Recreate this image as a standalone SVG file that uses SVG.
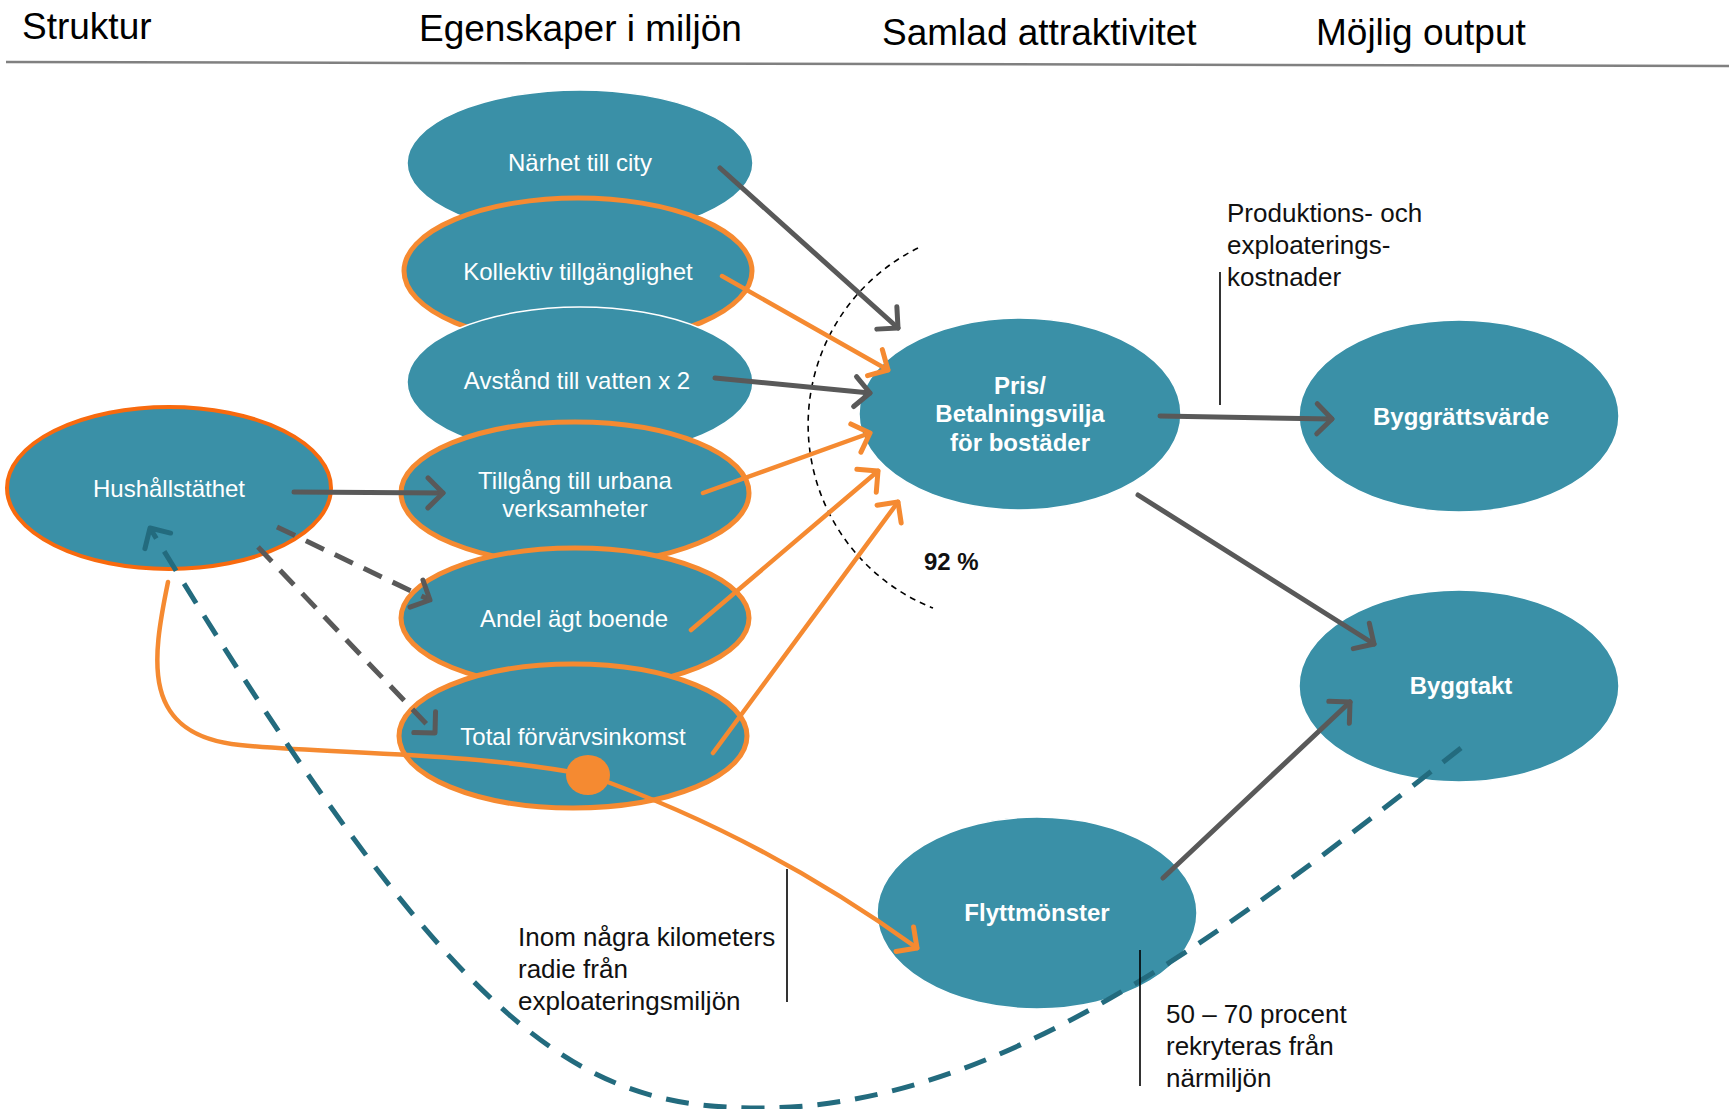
<svg xmlns="http://www.w3.org/2000/svg" width="1729" height="1109" viewBox="0 0 1729 1109">
<style>
.bg{fill:#ffffff}
.title{font-family:"Liberation Sans",Arial,sans-serif;font-size:37px;fill:#000}
.node{fill:#3A90A7;stroke:#ffffff;stroke-width:1.5}
.node-o{fill:#3A90A7;stroke:#F58A31;stroke-width:5}
.node-h{fill:#3A90A7;stroke:#F86A0E;stroke-width:4}
.lbl{font-family:"Liberation Sans",Arial,sans-serif;font-size:24px;fill:#ffffff;text-anchor:middle}
.lblb{font-family:"Liberation Sans",Arial,sans-serif;font-size:24px;font-weight:bold;fill:#ffffff;text-anchor:middle}
.note{font-family:"Liberation Sans",Arial,sans-serif;font-size:26px;fill:#111}
.pct{font-family:"Liberation Sans",Arial,sans-serif;font-size:24px;font-weight:bold;fill:#111}
.g{stroke:#595959;stroke-width:5;fill:none;stroke-linecap:round}
.gd{stroke:#595959;stroke-width:5;fill:none;stroke-dasharray:20 12}
.o{stroke:#F58A31;stroke-width:4.5;fill:none;stroke-linecap:round}
.t{stroke:#236B7E;stroke-width:5;fill:none;stroke-dasharray:23 15}
.thin{stroke:#000;stroke-width:1.6;fill:none}
</style>
<defs>
<marker id="ag" markerUnits="userSpaceOnUse" markerWidth="40" markerHeight="40" refX="0" refY="0" orient="auto" overflow="visible">
<path d="M -15 -15 L 0 0 L -15 15" fill="none" stroke="#595959" stroke-width="5" stroke-linecap="round" stroke-linejoin="round"/>
</marker>
<marker id="ao" markerUnits="userSpaceOnUse" markerWidth="40" markerHeight="40" refX="0" refY="0" orient="auto" overflow="visible">
<path d="M -15 -15 L 0 0 L -15 15" fill="none" stroke="#F58A31" stroke-width="5" stroke-linecap="round" stroke-linejoin="round"/>
</marker>
<marker id="at" markerUnits="userSpaceOnUse" markerWidth="40" markerHeight="40" refX="0" refY="0" orient="auto" overflow="visible">
<path d="M -15 -15 L 0 0 L -15 15" fill="none" stroke="#236B7E" stroke-width="5" stroke-linecap="round" stroke-linejoin="round"/>
</marker>
</defs>
<rect class="bg" x="0" y="0" width="1729" height="1109"/>

<g id="header">
<text class="title" x="22" y="39">Struktur</text>
<text class="title" x="419" y="41">Egenskaper i miljön</text>
<text class="title" x="882" y="45">Samlad attraktivitet</text>
<text class="title" x="1316" y="45">Möjlig output</text>
<line x1="6" y1="62" x2="1729" y2="66" stroke="#808080" stroke-width="2.5"/>
</g>

<g id="n-narhet"><ellipse class="node" cx="580" cy="163" rx="173" ry="73"/><text class="lbl" x="580" y="171">Närhet till city</text></g>
<g id="n-kollektiv"><ellipse class="node-o" cx="578" cy="271" rx="174" ry="73"/><text class="lbl" x="578" y="280">Kollektiv tillgänglighet</text></g>
<g id="n-avstand"><ellipse class="node" cx="580" cy="382" rx="173" ry="75"/><text class="lbl" x="577" y="389">Avstånd till vatten x 2</text></g>
<g id="n-tillgang"><ellipse class="node-o" cx="575" cy="493" rx="174" ry="71"/><text class="lbl" x="575" y="489">Tillgång till urbana</text><text class="lbl" x="575" y="517">verksamheter</text></g>
<g id="n-andel"><ellipse class="node-o" cx="575" cy="618" rx="174" ry="70"/><text class="lbl" x="574" y="627">Andel ägt boende</text></g>
<g id="n-total"><ellipse class="node-o" cx="573" cy="736" rx="174" ry="72"/><text class="lbl" x="573" y="745">Total förvärvsinkomst</text></g>
<g id="n-hush"><ellipse class="node-h" cx="169" cy="488" rx="162" ry="81"/><text class="lbl" x="169" y="497">Hushållstäthet</text></g>
<g id="n-pris"><ellipse class="node" cx="1020" cy="414" rx="161" ry="96"/><text class="lblb" x="1020" y="394">Pris/</text><text class="lblb" x="1020" y="422">Betalningsvilja</text><text class="lblb" x="1020" y="451">för bostäder</text></g>
<g id="n-byggratt"><ellipse class="node" cx="1459" cy="416" rx="160" ry="96"/><text class="lblb" x="1461" y="425">Byggrättsvärde</text></g>
<g id="n-byggtakt"><ellipse class="node" cx="1459" cy="686" rx="160" ry="96"/><text class="lblb" x="1461" y="694">Byggtakt</text></g>
<g id="n-flytt"><ellipse class="node" cx="1037" cy="913" rx="160" ry="96"/><text class="lblb" x="1037" y="921">Flyttmönster</text></g>

<g id="annotations">
<path class="thin" d="M 918 248 A 197 197 0 0 0 933 608" stroke-dasharray="6 5"/>
<text class="pct" x="924" y="570">92 %</text>
<text class="note" x="1227" y="222">Produktions- och</text>
<text class="note" x="1227" y="254">exploaterings-</text>
<text class="note" x="1227" y="286">kostnader</text>
<line class="thin" x1="1220" y1="272" x2="1220" y2="405"/>
<text class="note" x="518" y="946">Inom några kilometers</text>
<text class="note" x="518" y="978">radie från</text>
<text class="note" x="518" y="1010">exploateringsmiljön</text>
<line class="thin" x1="787" y1="869" x2="787" y2="1002"/>
<text class="note" x="1166" y="1023">50 – 70 procent</text>
<text class="note" x="1166" y="1055">rekryteras från</text>
<text class="note" x="1166" y="1087">närmiljön</text>
</g>

<g id="connectors">
<path class="g" d="M 720 168 L 898 328" marker-end="url(#ag)"/>
<path class="o" d="M 722 276 L 888 370" marker-end="url(#ao)"/>
<path class="g" d="M 715 378 L 870 393" marker-end="url(#ag)"/>
<path class="o" d="M 703 493 L 870 433" marker-end="url(#ao)"/>
<path class="o" d="M 691 630 L 878 471" marker-end="url(#ao)"/>
<path class="o" d="M 713 753 L 898 502" marker-end="url(#ao)"/>
<path class="g" d="M 294 492 L 443 493" marker-end="url(#ag)"/>
<path class="gd" d="M 277 527 L 430 600" marker-end="url(#ag)"/>
<path class="gd" d="M 258 547 L 435 733" marker-end="url(#ag)"/>
<path class="g" d="M 1160 416 L 1332 419" marker-end="url(#ag)"/>
<path class="g" d="M 1138 495 L 1374 644" marker-end="url(#ag)"/>
<path class="g" d="M 1163 878 L 1350 702" marker-end="url(#ag)"/>
<path class="o" d="M 168 582 C 152 660, 140 735, 240 745 C 330 754, 470 752, 588 775"/>
<path class="o" d="M 588 775 Q 760 835 917 948" marker-end="url(#ao)"/>
<ellipse cx="588" cy="775" rx="22" ry="20" fill="#F58A31"/>
<path class="t" d="M 1461 748 C 1230 930, 1000 1108, 760 1108 C 580 1108, 460 1040, 150 528" marker-end="url(#at)"/>
<line class="thin" x1="1140" y1="950" x2="1140" y2="1086"/>
</g>
</svg>
